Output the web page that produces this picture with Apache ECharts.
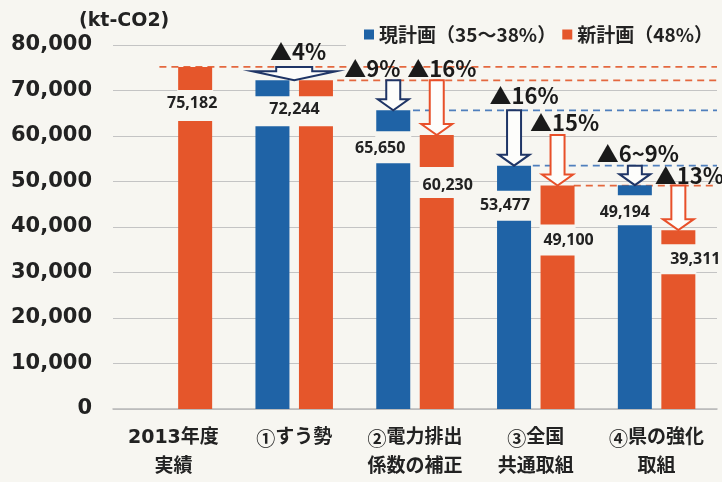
<!DOCTYPE html>
<html><head><meta charset="utf-8">
<script src="https://cdn.jsdelivr.net/npm/echarts@6/dist/echarts.min.js"></script>
<style>html,body{margin:0;padding:0;background:#f7f6f1}#c{width:722px;height:482px}</style>
</head><body><div id="c"></div>
<script>
// ---------- data ----------
const categories = ['2013年度\n実績', '①すう勢', '②電力排出\n係数の補正', '③全国\n共通取組', '④県の強化\n取組'];
const currentPlan = [null, 72244, 65650, 53477, 49194];   // 現計画
const newPlan = [75182, 72244, 60230, 49100, 39311];      // 新計画
const seriesNames = ['現計画（35～38%）', '新計画（48%）'];
const currentCuts = [null, '▲4%', '▲9%', '▲16%', '▲6~9%'];
const newCuts = [null, '▲4%', '▲16%', '▲15%', '▲13%'];
const yMin = 0, yMax = 80000, yStep = 10000;
const unitLabel = '(kt-CO2)';

// ---------- styles / layout ----------
const BG = '#f7f6f1';
const BLUE = '#1f63a6', ORANGE = '#e5562b';
const NAVY = '#1f3566', RED = '#e8502a';
const BAR_W = 34, BAR_GAP = 9.5;
const SIDE = [-(BAR_W + BAR_GAP) / 2, (BAR_W + BAR_GAP) / 2];
// per bar: [gapTop, gapBottom, textY, textDx] relative to bar top / bar center
const labelLayout = [
  [null, [16, 46, 29, 22], [21, 53, 38, -13], [25, 55, 40, -9], [10, 40, 27, -10]],
  [[23, 54, 37, -3], [16, 46, 29, null], [32, 63, 50, 11], [39, 70, 55, 11], [14, 44, 29, 17]]
];
// cut label offsets relative to arrow top / arrow center
const cutLayout = [
  [null, [4, -15], [-21, -12], [10, -15], [3, -12]],
  [null, null, [5, -12], [7, -12], [11, -10]]
];
// dashed guide lines: [side, category, start dx from category centre]
const guides = [[1, 0, -14], [1, 1, 43], [0, 2, -2], [0, 3, -3], [1, 3, 38]];

const plans = [currentPlan, newPlan];
const cuts = [currentCuts, newCuts];
const fmt = v => v.toLocaleString('en-US');

// value labels + gaps
const gapItems = [];
for (let s = 0; s < 2; s++) {
  for (let i = 0; i < categories.length; i++) {
    if (plans[s][i] == null || !labelLayout[s][i]) continue;
    const L = labelLayout[s][i];
    gapItems.push({cat: i, side: s, value: plans[s][i], g0: L[0], g1: L[1], ty: L[2], dx: L[3]});
  }
}
const textItems = gapItems.filter(g => g.dx != null);
// arrows
const arrowItems = [];
// combined arrow for ① (both plans share the same value)
arrowItems.push({cat: 1, side: -1, from: newPlan[0], to: newPlan[1], text: currentCuts[1], off: cutLayout[0][1]});
for (let i = 2; i < categories.length; i++) {
  for (let s = 0; s < 2; s++) {
    arrowItems.push({cat: i, side: s, from: plans[s][i - 1], to: plans[s][i], text: cuts[s][i], off: cutLayout[s][i]});
  }
}

const legendText = {fontFamily: 'Noto Sans CJK JP', fontWeight: 'bold', fontSize: 19, color: '#222'};
const chart = echarts.init(document.getElementById('c'));
chart.setOption({
  backgroundColor: BG,
  animation: false,
  title: {
    text: unitLabel, left: 74, top: 7,
    textStyle: {fontFamily: 'DejaVu Sans', fontWeight: 'bold', fontSize: 19, color: '#222'}
  },
  legend: [
    {data: [seriesNames[0]], left: 346, top: 20, padding: [5, 10, 6, 18], backgroundColor: BG,
     itemWidth: 10, itemHeight: 10, icon: 'rect', textStyle: legendText},
    {data: [seriesNames[1]], right: 0, top: 20, padding: [5, 9, 6, 10], backgroundColor: BG,
     itemWidth: 10, itemHeight: 10, icon: 'rect', textStyle: legendText}
  ],
  grid: {left: 113, right: 5, top: 45, bottom: 67},
  xAxis: {
    type: 'category', data: categories,
    axisLine: {lineStyle: {color: '#b9b9b9', width: 1.5}},
    axisTick: {show: false},
    axisLabel: {interval: 0, margin: 15, lineHeight: 29, fontFamily: 'DejaVu Sans, Noto Sans CJK JP',
      fontWeight: 'bold', fontSize: 19, color: '#222',
      formatter: v => v.replace(/^([①-⑳])/, '{c|$1}'),
      rich: {c: {fontFamily: 'Noto Sans CJK JP', fontWeight: 'bold', fontSize: 19, lineHeight: 29, color: '#222'}}
    }
  },
  yAxis: {
    type: 'value', min: yMin, max: yMax, interval: yStep,
    axisLine: {show: false}, axisTick: {show: false},
    splitLine: {lineStyle: {color: '#c4c4c4', width: 1.2}},
    axisLabel: {margin: 21, fontFamily: 'DejaVu Sans', fontWeight: 'bold', fontSize: 21, color: '#222',
      formatter: v => fmt(v)}
  },
  series: [
    {
      type: 'custom', name: 'guides', z: 1, silent: true,
      data: guides.map(g => [g[1], plans[g[0]][g[1]]]),
      renderItem: (params, api) => {
        const g = guides[params.dataIndex];
        const p = api.coord([api.value(0), api.value(1)]);
        const x1 = params.coordSys.x + params.coordSys.width;
        return {
          type: 'line',
          shape: {x1: p[0] + g[2], y1: p[1], x2: x1, y2: p[1]},
          style: {stroke: g[0] ? '#e4683f' : '#4f7fbd', lineWidth: 1.8, lineDash: [7, 5]}
        };
      }
    },
    {
      type: 'bar', name: seriesNames[0], data: currentPlan, z: 2,
      barWidth: BAR_W, barGap: (BAR_GAP / BAR_W * 100) + '%',
      itemStyle: {color: BLUE}
    },
    {
      type: 'bar', name: seriesNames[1], data: newPlan, z: 2,
      barWidth: BAR_W,
      itemStyle: {color: ORANGE}
    },
    {
      type: 'custom', name: 'gaps', z: 3, silent: true,
      data: gapItems.map(g => [g.cat, g.value]),
      renderItem: (params, api) => {
        const g = gapItems[params.dataIndex];
        const p = api.coord([api.value(0), api.value(1)]);
        const cx = p[0] + SIDE[g.side];
        return {
          type: 'rect',
          shape: {x: cx - BAR_W / 2 - 1, y: p[1] + g.g0, width: BAR_W + 2, height: g.g1 - g.g0},
          style: {fill: BG}
        };
      }
    },
    {
      type: 'custom', name: 'values', z: 4, silent: true,
      data: textItems.map(g => [g.cat, g.value]),
      renderItem: (params, api) => {
        const g = textItems[params.dataIndex];
        const p = api.coord([api.value(0), api.value(1)]);
        const cx = p[0] + SIDE[g.side];
        return {
          type: 'text', x: cx + g.dx, y: p[1] + g.ty,
          style: {text: fmt(g.value), fill: '#222', align: 'center', verticalAlign: 'middle',
            font: 'bold 16px "Noto Sans"'}
        };
      }
    },
    {
      type: 'custom', name: 'arrows', z: 5, silent: true,
      data: arrowItems.map(a => [a.cat, a.from, a.to]),
      renderItem: (params, api) => {
        const a = arrowItems[params.dataIndex];
        const pf = api.coord([api.value(0), api.value(1)]);
        const pt = api.coord([api.value(0), api.value(2)]);
        const big = a.side < 0;
        const cx = pf[0] + (big ? 0 : SIDE[a.side]);
        const s = big ? 18 : 7, h = big ? 42 : 15.5, L = big ? 9 : 11;
        const yT = pf[1], yB = pt[1];
        const pts = [[cx - s, yT], [cx + s, yT], [cx + s, yB - L], [cx + h, yB - L], [cx, yB],
                     [cx - h, yB - L], [cx - s, yB - L]];
        return {
          type: 'group',
          children: [
            {type: 'polygon', shape: {points: pts},
             style: {fill: '#fdfdfb', stroke: a.side === 1 ? RED : NAVY, lineWidth: 2, lineJoin: 'miter'}},
            {type: 'text', x: cx + a.off[0], y: yT + a.off[1],
             style: {text: a.text, fill: '#1a1a1a', align: 'center', verticalAlign: 'middle',
               font: 'bold 22px "Noto Sans CJK JP"'}}
          ]
        };
      }
    }
  ]
});
</script>
</body></html>
